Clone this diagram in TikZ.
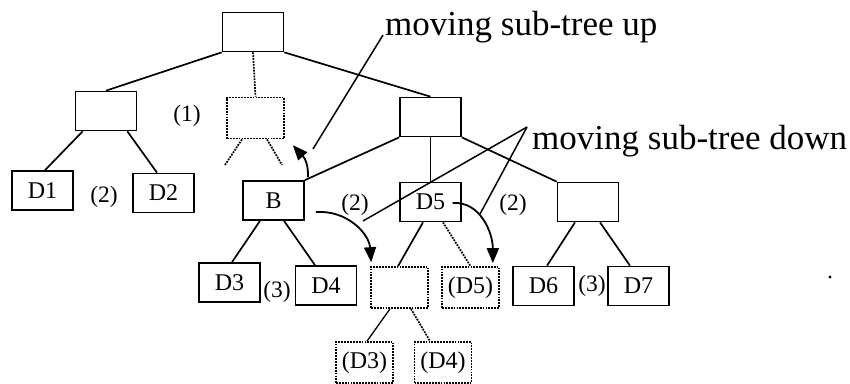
\documentclass[tikz,border=0pt]{standalone}
\usepackage{fontspec}
\setmainfont{Liberation Serif}
\usetikzlibrary{arrows.meta}

\tikzset{
    treebox/.style={draw, line width=1.7pt, minimum width=61pt, minimum height=39pt,
        inner sep=0pt, font=\fontsize{24}{24}\selectfont},
    movedbox/.style={treebox, minimum width=57pt, minimum height=41pt,
        dash pattern=on 1.8pt off 1.1pt},
    edge/.style={line width=1.7pt},
    dotedge/.style={line width=1.7pt, dash pattern=on 1.8pt off 1.1pt},
    steplabel/.style={font=\fontsize{23.5}{23.5}\selectfont, inner sep=0pt},
    note/.style={font=\fontsize{35}{35}\selectfont, inner sep=0pt, anchor=base west},
    leader/.style={line width=1.5pt},
    movearrow/.style={line width=1.8pt, -{Triangle[length=15pt, width=12pt]}}
}

\begin{document}
\begin{tikzpicture}[x=1pt, y=-1pt]
    \useasboundingbox (0,0) rectangle (850,383);

    % Upper levels
        %% root and its children
        \node[treebox] (root) at (253,32) {};
        \node[treebox] (left) at (106,111) {};
        \node[movedbox] (gap) at (255.5,118) {};
        \node[treebox] (right) at (430.5,117) {};
        \draw[edge] (root.south west) -- (left.north);
        \draw[dotedge] (root.south) -- (gap.north);
        \draw[edge] (root.south east) -- (right.north);

        %% left sub-tree
        \node[treebox] (d1) at (42.5,190.5) {D1};
        \node[treebox] (d2) at (163.5,193) {D2};
        \draw[edge] ([xshift=8pt]left.south west) -- ([xshift=2.5pt]d1.north);
        \draw[edge] ([xshift=-10pt]left.south east) -- ([xshift=-6.5pt]d2.north);

        %% removed node
        \coordinate (gapl) at (225,165);
        \coordinate (gapr) at (282,165);
        \draw[dotedge] ([xshift=-13.5pt]gap.south) -- (gapl);
        \draw[dotedge] ([xshift=11.5pt]gap.south) -- (gapr);

    % Lower levels
        %% children of the right node
        \node[treebox] (b) at (273.5,200.5) {B};
        \node[treebox] (d5) at (430.5,202) {D5};
        \node[treebox] (rc) at (588,202) {};
        \draw[edge] (right.south west) -- (b.north east);
        \draw[edge] (right.south) -- (d5.north);
        \draw[edge] (right.south east) -- (rc.north west);

        %% leaves
        \node[treebox] (d3) at (229.5,282.5) {D3};
        \node[treebox] (d4) at (326,285.5) {D4};
        \node[treebox] (d6) at (543.5,286) {D6};
        \node[treebox] (d7) at (638.5,286) {D7};
        \draw[edge] ([xshift=-13.5pt]b.south) -- ([xshift=2.5pt]d3.north);
        \draw[edge] ([xshift=10.5pt]b.south) -- ([xshift=-11pt]d4.north);
        \draw[edge] ([xshift=-13pt]rc.south) -- ([xshift=3.5pt]d6.north);
        \draw[edge] ([xshift=12pt]rc.south) -- ([xshift=-8.5pt]d7.north);

        %% moved nodes
        \node[movedbox] (hole) at (399.5,287.5) {};
        \node[movedbox] (d5c) at (470.5,287.5) {(D5)};
        \node[movedbox] (d3c) at (364.5,362.5) {(D3)};
        \node[movedbox] (d4c) at (443,362.5) {(D4)};
        \draw[edge] ([xshift=-7.5pt]d5.south) -- ([xshift=-1.5pt]hole.north);
        \draw[dotedge] ([xshift=12.5pt]d5.south) -- (d5c.north);
        \draw[line width=1.3pt] ([xshift=-9.5pt]hole.south) -- ([xshift=2.5pt]d3c.north);
        \draw[dotedge] ([xshift=11.5pt]hole.south) -- ([xshift=-13pt]d4c.north);

    % Steps
        \node[steplabel] (s1) at (187,116) {(1)};
        \node[steplabel] (s2a) at (104,197) {(2)};
        \node[steplabel] (s2b) at (355,205) {(2)};
        \node[steplabel] (s2c) at (513,205) {(2)};
        \node[steplabel] (s3a) at (277,292) {(3)};
        \node[steplabel] (s3b) at (592,286) {(3)};

    % Moves
        \draw[movearrow] ([xshift=3pt, yshift=3pt]b.north east)
            .. controls +(1,-18) and +(8,9) .. ([xshift=-12pt, yshift=35pt]b.north east);
        \draw[movearrow] ([xshift=11pt, yshift=-11.5pt]b.east)
            .. controls +(32,-2) and +(-2,-28) .. ([xshift=1pt, yshift=4pt]hole.north west);
        \draw[movearrow] ([xshift=22pt, yshift=-1pt]d5.center)
            .. controls +(28,-2) and +(0,-30) .. ([xshift=-7pt, yshift=3pt]d5c.north east);

    % Notes
        \node[note] (upnote) at (385,35) {moving sub-tree up};
        \node[note] (downnote) at (532,149) {moving sub-tree down};
        \coordinate (upend) at (313,149);
        \coordinate (downref) at (527,127);
        \coordinate (downa) at (363,221);
        \coordinate (downb) at (480,214);
        \draw[leader] ([xshift=-2pt]upnote.base west) -- (upend);
        \draw[leader] (downref) -- (downa);
        \draw[leader] (downref) -- (downb);

        \fill (830,277) circle (1.7);

\end{tikzpicture}
\end{document}
